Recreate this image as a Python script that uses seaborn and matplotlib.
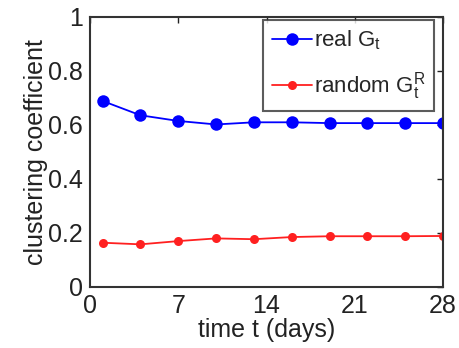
import matplotlib
matplotlib.use("Agg")
import matplotlib.pyplot as plt
import seaborn as sns
import pandas as pd
import numpy as np

# values
days = [1, 4, 7, 10, 13, 16, 19, 22, 25, 28]
real_cc = [0.689, 0.636, 0.615, 0.602, 0.610, 0.610, 0.607, 0.607, 0.607, 0.607]
random_cc = [0.164, 0.158, 0.170, 0.180, 0.177, 0.185, 0.188, 0.188, 0.188, 0.189]
x_ticks = [0, 7, 14, 21, 28]
y_ticks = [0, 0.2, 0.4, 0.6, 0.8, 1]
y_tick_labels = ['0', '0.2', '0.4', '0.6', '0.8', '1']

sns.set_style("white")
plt.rcParams['font.family'] = ['Liberation Sans', 'DejaVu Sans']
plt.rcParams['mathtext.fontset'] = 'custom'
plt.rcParams['mathtext.rm'] = 'Liberation Sans'
plt.rcParams['mathtext.it'] = 'Liberation Sans'

fig = plt.figure(figsize=(4.59, 3.48), dpi=100)
ax = fig.add_axes([90 / 459, 1 - 287 / 348, (443 - 90) / 459, (287 - 17) / 348])

df = pd.DataFrame({'day': days, 'real': real_cc, 'random': random_cc})
sns.lineplot(data=df, x='day', y='real', ax=ax, color='#0000ff', marker='o',
             markersize=9, markeredgewidth=0, linewidth=1.3, label=r'real $\mathrm{G_t}$')
sns.lineplot(data=df, x='day', y='random', ax=ax, color='#ff2020', marker='o',
             markersize=6.5, markeredgewidth=0, linewidth=1.3, label=r'random $\mathrm{G_t^R}$')

ax.set_xlim(0, 28)
ax.set_ylim(0, 1)
ax.set_xticks(x_ticks)
ax.set_yticks(y_ticks)
ax.set_yticklabels(y_tick_labels)
ax.tick_params(direction='in', length=4, width=1, labelsize=18, top=True, right=True,
               pad=5, colors='#222222')
for s in ax.spines.values():
    s.set_visible(True)
    s.set_color('#333333')
    s.set_linewidth(1.5)

ax.set_xlabel('time t (days)', fontsize=18, labelpad=0, color='#222222')
ax.set_ylabel('clustering coefficient', fontsize=18, labelpad=0, color='#222222')

leg = ax.legend(loc='upper right', bbox_to_anchor=(0.975, 0.99), fontsize=16,
                frameon=True, fancybox=False, shadow=False, handlelength=1.8,
                handletextpad=0.1, borderpad=0.4, labelspacing=0.8, borderaxespad=0)
leg.get_frame().set_edgecolor('#333333')
leg.get_frame().set_linewidth(1.5)

fig.savefig('out.png', dpi=100)
